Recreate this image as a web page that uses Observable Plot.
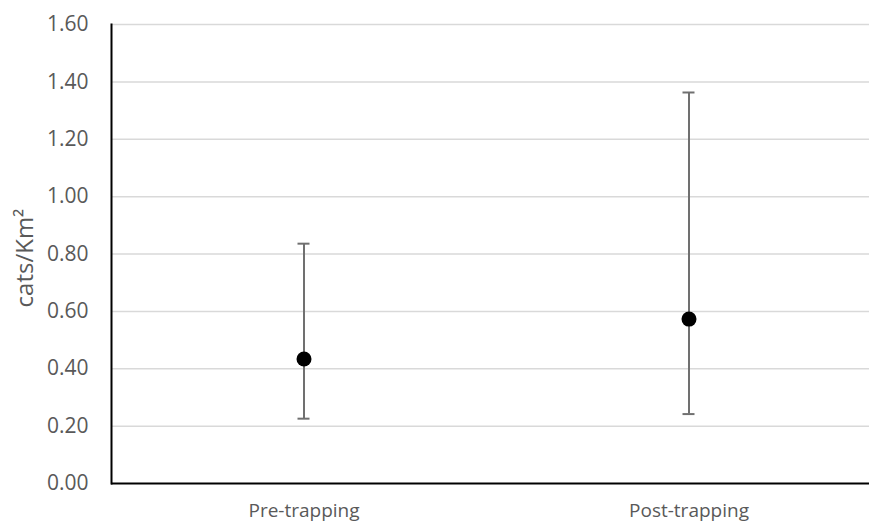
<!DOCTYPE html>
<html>
<head>
<meta charset="utf-8">
<script src="https://cdn.jsdelivr.net/npm/d3@7"></script>
<script src="https://cdn.jsdelivr.net/npm/@observablehq/plot@0.6"></script>
<style>
  html, body { margin: 0; padding: 0; background: #fff; }
  svg { display: block; }
</style>
</head>
<body>
<div id="chart"></div>
<script>
const periods = ["Pre-trapping", "Post-trapping"];
const means = [0.434, 0.573];
const lowers = [0.226, 0.242];
const uppers = [0.836, 1.363];
const yTicks = [0, 0.2, 0.4, 0.6, 0.8, 1.0, 1.2, 1.4, 1.6];
const yLabel = "cats/Km²";

const data = periods.map((p, i) => ({period: p, mean: means[i], lo: lowers[i], hi: uppers[i]}));

const bandLeft = 110.5, bandRight = 880.5;
const capInset = ((bandRight - bandLeft) / periods.length - 12) / 2;

const chart = Plot.plot({
  width: 869,
  height: 524,
  marginTop: 24,
  marginBottom: 41,
  marginLeft: 111,
  marginRight: 0,
  style: {fontFamily: "'Open Sans', sans-serif", background: "#fff"},
  x: {type: "band", domain: periods, range: [bandLeft, bandRight], padding: 0, label: null},
  y: {domain: [0, 1.6], label: null},
  marks: [
    Plot.ruleY(yTicks.filter(d => d > 0), {stroke: "#d9d9d9", strokeWidth: 1.5}),
    Plot.axisY({ticks: yTicks, tickFormat: d3.format(".2f"), tickSize: 0, tickPadding: 23,
      fontSize: 21, fill: "#595959", label: null}),
    Plot.axisX({tickSize: 0, tickPadding: 20, fontSize: 19, fill: "#595959", label: null}),
    Plot.text([yLabel], {frameAnchor: "left", dx: -86, dy: 4, rotate: -90, text: d => d,
      textAnchor: "middle", fontSize: 24, fill: "#595959"}),
    Plot.ruleX(data, {x: "period", y1: "lo", y2: "hi", stroke: "#707070", strokeWidth: 2}),
    Plot.tickY(data, {x: "period", y: "lo", stroke: "#707070", strokeWidth: 2, insetLeft: capInset, insetRight: capInset}),
    Plot.tickY(data, {x: "period", y: "hi", stroke: "#707070", strokeWidth: 2, insetLeft: capInset, insetRight: capInset}),
    Plot.dot(data, {x: "period", y: "mean", r: 7.5, fill: "#000", stroke: "none"}),
    Plot.ruleY([0], {stroke: "#000", strokeWidth: 2}),
    Plot.frame({anchor: "left", stroke: "#000", strokeWidth: 2})
  ]
});
document.getElementById("chart").appendChild(chart);
</script>
</body>
</html>
